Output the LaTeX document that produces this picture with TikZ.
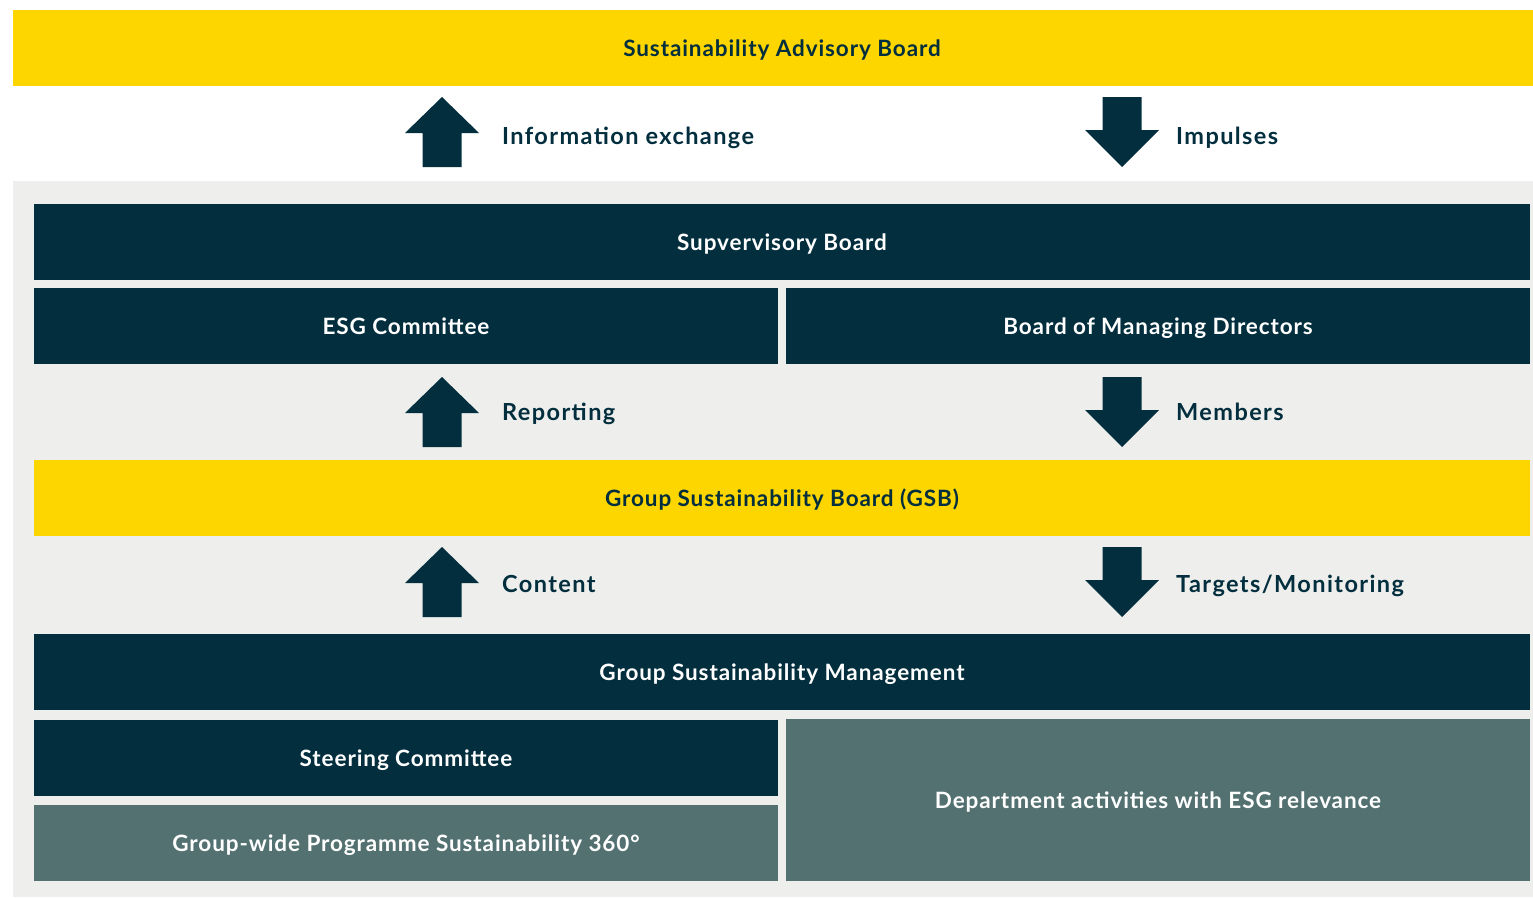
\documentclass[tikz,border=0pt]{standalone}
\usepackage{fontspec}
\setmainfont{Lato}[BoldFont=* Bold]
\usetikzlibrary{positioning}

\definecolor{esgyellow}{HTML}{FDD600}
\definecolor{esgnavy}{HTML}{022E3E}
\definecolor{esgteal}{HTML}{537171}
\definecolor{esggrey}{HTML}{EEEEEC}

\tikzset{
  box/.style={shape=rectangle, fill=esgnavy, text=white, inner sep=0pt,
    minimum height=76pt, minimum width=1496pt, text height=17.5pt, text depth=0pt,
    font=\fontsize{22.5}{24}\selectfont\bfseries\addfontfeature{LetterSpace=4}},
  halfbox/.style={box, minimum width=744pt},
  flowlabel/.style={anchor=west, text=esgnavy, inner sep=0pt, text height=17pt, text depth=0pt,
    font=\fontsize{23.5}{26}\selectfont\bfseries\addfontfeature{LetterSpace=6}},
  up/.pic={\fill[esgnavy] (0,-35) -- (37,1) -- (19.5,1) -- (19.5,35)
      -- (-19.5,35) -- (-19.5,1) -- (-37,1) -- cycle;},
  down/.pic={\fill[esgnavy] (0,35) -- (37,-2) -- (19.5,-2) -- (19.5,-35)
      -- (-19.5,-35) -- (-19.5,-2) -- (-37,-2) -- cycle;}
}

\begin{document}
\begin{tikzpicture}[x=1pt, y=-1pt]
  \useasboundingbox (0,0) rectangle (1533,897);
  \fill[white] (0,0) rectangle (1533,897);

  % advisory board and the grey frame
  \fill[esgyellow] (13,10) rectangle (1533,86);
  \fill[esggrey] (13,181) rectangle (1533,897);
  \node[box, fill=none, text=esgnavy] (advisory) at (782,48) {Sustainability Advisory Board};

  % boxes
  \node[box] (supervisory) at (782,242) {Supvervisory Board};
  \node[halfbox] (esg) at (406,326) {ESG Committee};
  \node[halfbox] (managing) at (1158,326) {Board of Managing Directors};
  \node[box, fill=esgyellow, text=esgnavy] (gsb) at (782,498) {Group Sustainability Board (GSB)};
  \node[box] (gsm) at (782,672) {Group Sustainability Management};
  \node[halfbox] (steering) at (406,758) {Steering Committee};
  \node[halfbox, fill=esgteal] (programme) at (406,843) {Group-wide Programme Sustainability 360°};
  \node[halfbox, fill=esgteal, minimum height=162pt] (department) at (1158,800) {Department activities with ESG relevance};

  % arrows between the levels
  \pic at (442,132) {up};
  \pic at (1122,132) {down};
  \pic at (442,412) {up};
  \pic at (1122,412) {down};
  \pic at (442,582) {up};
  \pic at (1122,582) {down};

  \node[flowlabel] (info) at (502,136) {Information exchange};
  \node[flowlabel] (impulses) at (1176,136) {Impulses};
  \node[flowlabel] (reporting) at (502,412) {Reporting};
  \node[flowlabel] (members) at (1176,412) {Members};
  \node[flowlabel] (content) at (502,584) {Content};
  \node[flowlabel] (targets) at (1176,584) {Targets/Monitoring};
\end{tikzpicture}
\end{document}
